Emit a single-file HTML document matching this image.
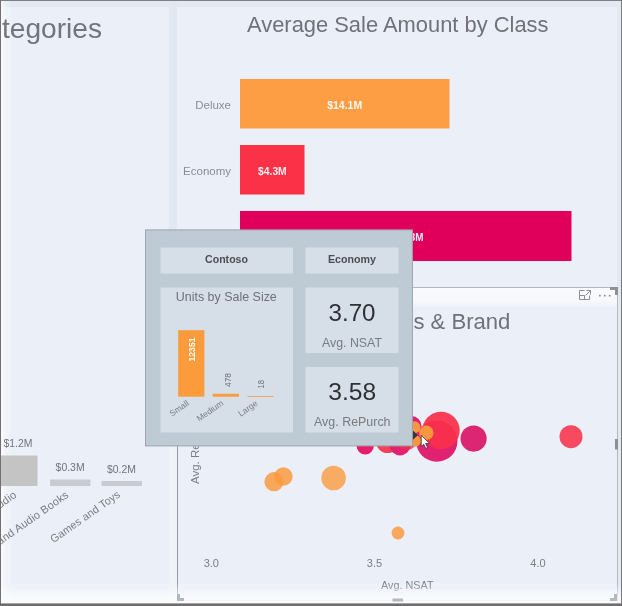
<!DOCTYPE html>
<html lang="en">
<head>
<meta charset="utf-8">
<title>Report tooltip</title>
<style>
html,body{margin:0;padding:0;background:#ebf0f8;overflow:hidden}
body{width:622px;height:606px;position:relative;font-family:"Liberation Sans",sans-serif}
svg{position:absolute;left:0;top:0;display:block}
text{font-family:"Liberation Sans",sans-serif}
</style>
</head>
<body>
<svg width="622" height="606" viewBox="0 0 622 606">
  <defs>
    <filter id="soft" x="-2%" y="-2%" width="104%" height="104%"><feGaussianBlur stdDeviation="0.3"/></filter>
    <linearGradient id="leftFade" x1="0" y1="0" x2="1" y2="0"><stop offset="0" stop-color="#ffffff" stop-opacity="0.7"/><stop offset="0.35" stop-color="#ffffff" stop-opacity="0.3"/><stop offset="1" stop-color="#ffffff" stop-opacity="0"/></linearGradient>
    <linearGradient id="hdrFade" x1="0" y1="0" x2="0" y2="1"><stop offset="0" stop-color="#f9fafd"/><stop offset="0.65" stop-color="#f7f8fc"/><stop offset="1" stop-color="#ebf0f8"/></linearGradient>
    <linearGradient id="botFade" x1="0" y1="0" x2="0" y2="1"><stop offset="0" stop-color="#ffffff" stop-opacity="0"/><stop offset="0.75" stop-color="#ffffff" stop-opacity="0.7"/><stop offset="1" stop-color="#ffffff" stop-opacity="0.8"/></linearGradient>
    <clipPath id="scatterClip"><rect x="178" y="288" width="439" height="312"/></clipPath>
  </defs>
  <g filter="url(#soft)">
  <!-- page background -->
  <rect x="-5" y="-5" width="632" height="616" fill="#ebf0f8"/>
  <!-- top strip, gutters -->
  <rect x="0" y="0" width="622" height="7" fill="#e3e9f2"/>
  <rect x="169" y="0" width="8" height="287" fill="#e2e8f2"/>
  <rect x="169" y="287" width="8" height="317" fill="#eef2f9"/>
  <rect x="617" y="0" width="5" height="606" fill="#e2e9f3"/>

  <rect x="1" y="1" width="12" height="603" fill="url(#leftFade)"/>
  <!-- left panel title -->
  <text x="2" y="38" font-size="28" fill="#72747c" textLength="100" lengthAdjust="spacingAndGlyphs">tegories</text>

  <!-- bar chart title -->
  <text x="247" y="32" font-size="21.5" fill="#6f7179" textLength="301.5" lengthAdjust="spacingAndGlyphs">Average Sale Amount by Class</text>

  <!-- bar chart -->
  <rect x="240" y="79" width="209.5" height="49.5" fill="#fd9e45"/>
  <rect x="240" y="145" width="64.5" height="49.5" fill="#fb3047"/>
  <rect x="240" y="211" width="331.5" height="50" fill="#e0005c"/>
  <text x="231" y="108.7" font-size="11.5" fill="#8a8d96" text-anchor="end">Deluxe</text>
  <text x="231" y="174.5" font-size="11.5" fill="#8a8d96" text-anchor="end">Economy</text>
  <text x="327.2" y="108.9" font-size="10.5" font-weight="bold" fill="#fff" fill-opacity="0.92" textLength="35" lengthAdjust="spacingAndGlyphs">$14.1M</text>
  <text x="258.1" y="175" font-size="10.5" font-weight="bold" fill="#fff" fill-opacity="0.92" textLength="28.6" lengthAdjust="spacingAndGlyphs">$4.3M</text>
  <text x="423.5" y="241" font-size="10" font-weight="bold" fill="#fff" fill-opacity="0.92" text-anchor="end" textLength="33" lengthAdjust="spacingAndGlyphs">$22.3M</text>

  <!-- left bottom column chart -->
  <rect x="1" y="455.5" width="36.5" height="30.5" fill="#c4c4c4"/>
  <rect x="50" y="479.5" width="40.5" height="6.5" fill="#c8cbd2"/>
  <rect x="101.5" y="481" width="40.5" height="5" fill="#c8cbd2"/>
  <text x="3.5" y="447" font-size="11" fill="#70737b" textLength="29" lengthAdjust="spacingAndGlyphs">$1.2M</text>
  <text x="55.6" y="470.6" font-size="11" fill="#70737b" textLength="29" lengthAdjust="spacingAndGlyphs">$0.3M</text>
  <text x="107" y="472.9" font-size="11" fill="#70737b" textLength="29" lengthAdjust="spacingAndGlyphs">$0.2M</text>
  <g font-size="11" fill="#787b83" text-anchor="end" letter-spacing="0.15">
    <text transform="translate(17.5,496.5) rotate(-35)">TV and Video and Audio</text>
    <text transform="translate(69.5,496.5) rotate(-35)">Music, Movies and Audio Books</text>
    <text transform="translate(121,496) rotate(-35)" textLength="82.5" lengthAdjust="spacingAndGlyphs">Games and Toys</text>
  </g>

  <!-- scatter chart frame -->
  <rect x="177.5" y="287.5" width="440" height="313" fill="#ebf0f8" stroke="#b4b8be" stroke-width="1"/>
  <rect x="177" y="288" width="1" height="312" fill="#979ba3"/>
  <rect x="178" y="288" width="439" height="20" fill="url(#hdrFade)"/>
  <rect x="178" y="600" width="439" height="1" fill="#d3d6db"/>
  <text y="328.5" font-size="21.5" fill="#6f7179"><tspan x="411" text-anchor="end">Avg. NSAT by Clas</tspan><tspan x="413.4" textLength="97" lengthAdjust="spacingAndGlyphs">s &amp; Brand</tspan></text>
  <!-- handles -->
  <path d="M610 287h8v8h-3v-5h-5z" fill="#8e9196"/>
  <rect x="615" y="439" width="3" height="10.5" fill="#8a8f98"/>
  <!-- focus + more icons -->
  <g fill="none" stroke="#8b8e94" stroke-width="1">
    <path d="M584.5 290.5h-5v9h10v-4"/>
    <path d="M586.5 290.5h4v4M590.5 290.5l-5 5"/>
    <path d="M579.5 295.5h5v4"/>
  </g>
  <g fill="#8f9298"><rect x="599" y="294.8" width="1.7" height="1.7"/><rect x="603.9" y="294.8" width="1.7" height="1.7"/><rect x="608.8" y="294.8" width="1.7" height="1.7"/></g>

  <!-- scatter axis -->
  <text x="211.3" y="566.6" font-size="11" fill="#7a7d85" text-anchor="middle">3.0</text>
  <text x="374.5" y="566.6" font-size="11" fill="#7a7d85" text-anchor="middle">3.5</text>
  <text x="538" y="566.6" font-size="11" fill="#7a7d85" text-anchor="middle">4.0</text>
  <text x="381" y="589" font-size="11.5" fill="#7a7d85" textLength="52.5" lengthAdjust="spacingAndGlyphs">Avg. NSAT</text>
  <text transform="translate(199,484) rotate(-90)" font-size="11.5" fill="#7a7d85">Avg. RePurch</text>

  <!-- bubbles -->
  <g clip-path="url(#scatterClip)">
    <circle cx="274" cy="481.7" r="9.6" fill="#fb9a3f" fill-opacity="0.85"/>
    <circle cx="283.4" cy="476.5" r="9.3" fill="#fb9a3f" fill-opacity="0.85"/>
    <circle cx="333.6" cy="478" r="12.3" fill="#fb9a3f" fill-opacity="0.8"/>
    <circle cx="398" cy="533" r="6.4" fill="#fb9a3f" fill-opacity="0.85"/>
    <circle cx="571" cy="436.7" r="11.5" fill="#f8304a" fill-opacity="0.88"/>
    <circle cx="473.6" cy="438.6" r="13.1" fill="#dc1c6c" fill-opacity="0.95"/>
    <circle cx="436.8" cy="441" r="20.7" fill="#e0206f"/>
    <circle cx="441" cy="430.5" r="18.7" fill="#f9304a" fill-opacity="0.93"/>
    <circle cx="365.2" cy="446" r="8.6" fill="#e81f68"/>
    <circle cx="387.5" cy="441.5" r="11.5" fill="#f5405a"/>
    <circle cx="400" cy="444.9" r="10.5" fill="#e0206f"/>
    <circle cx="406.5" cy="439" r="11" fill="#f5304e" fill-opacity="0.8"/>
    <circle cx="411.5" cy="426" r="10" fill="#e0206f"/>
    <circle cx="414.5" cy="427.2" r="6" fill="#f8973f"/>
    <circle cx="415.5" cy="441" r="5.6" fill="#f8973f"/>
    <circle cx="426.3" cy="432.8" r="7.2" fill="#f8973f"/>
  </g>

  <!-- tooltip -->
  <g>
    <path d="M412.5 430.3l5.4 4.6-5.4 5.3z" fill="#35373a"/>
    <rect x="145.5" y="229.9" width="266.9" height="216" fill="#bfcbd4" stroke="#99a4ad" stroke-width="1"/>
    <rect x="160.5" y="247.5" width="132.5" height="26" fill="#d6dfe8"/>
    <rect x="305.5" y="247.5" width="93" height="26" fill="#d6dfe8"/>
    <rect x="160.5" y="287.5" width="132.5" height="145" fill="#d6dfe8"/>
    <rect x="305.5" y="287.5" width="93" height="65.5" fill="#d6dfe8"/>
    <rect x="305.5" y="367" width="93" height="65.5" fill="#d6dfe8"/>
    <text x="226.5" y="263.3" font-size="11.5" font-weight="bold" fill="#4a4e55" text-anchor="middle" textLength="43" lengthAdjust="spacingAndGlyphs">Contoso</text>
    <text x="352" y="263.3" font-size="11.5" font-weight="bold" fill="#4a4e55" text-anchor="middle" textLength="48" lengthAdjust="spacingAndGlyphs">Economy</text>
    <text x="226.3" y="301.2" font-size="12.5" fill="#6d7078" text-anchor="middle" textLength="101" lengthAdjust="spacingAndGlyphs">Units by Sale Size</text>
    <!-- mini chart -->
    <rect x="178.2" y="330.2" width="26.2" height="66.5" fill="#fb9b3b"/>
    <rect x="212.6" y="393.8" width="26.4" height="2.9" fill="#fb9b3b"/>
    <rect x="247.4" y="396" width="26.4" height="1" fill="#f0a862"/>
    <text transform="translate(195,361.5) rotate(-90)" font-size="8.5" font-weight="bold" fill="#fff" textLength="24" lengthAdjust="spacingAndGlyphs">12351</text>
    <text transform="translate(230.5,387) rotate(-90)" font-size="8.5" fill="#6d7078" textLength="14" lengthAdjust="spacingAndGlyphs">478</text>
    <text transform="translate(263.5,388.5) rotate(-90)" font-size="8.5" fill="#6d7078" textLength="8.5" lengthAdjust="spacingAndGlyphs">18</text>
    <g font-size="8.5" fill="#7a7d85" text-anchor="end">
      <text transform="translate(189.5,404.5) rotate(-35)">Small</text>
      <text transform="translate(224,404.5) rotate(-35)">Medium</text>
      <text transform="translate(258.5,404.5) rotate(-35)">Large</text>
    </g>
    <!-- cards -->
    <text x="352" y="321.2" font-size="24" fill="#2d3138" text-anchor="middle" textLength="47" lengthAdjust="spacingAndGlyphs">3.70</text>
    <text x="352" y="347" font-size="12.5" fill="#777b82" text-anchor="middle" textLength="60" lengthAdjust="spacingAndGlyphs">Avg. NSAT</text>
    <text x="352.3" y="400.3" font-size="24" fill="#2d3138" text-anchor="middle" textLength="48" lengthAdjust="spacingAndGlyphs">3.58</text>
    <text x="352.3" y="426" font-size="12.5" fill="#777b82" text-anchor="middle" textLength="76.5" lengthAdjust="spacingAndGlyphs">Avg. RePurch</text>
  </g>

  <!-- cursor -->
  <path d="M421.2 435.4l0 11 2.5-2.2 2 4.2 1.9-.8-2-4.1 3.9-.2z" fill="#fff" stroke="#333" stroke-width="0.8" stroke-linejoin="round"/>

  <rect x="1" y="582" width="620" height="22" fill="url(#botFade)"/>
  <path d="M177 594h3v4h4v3h-7z" fill="#b4b7bd"/>
  <path d="M617 594v7h-7v-3h4v-4z" fill="#b4b7bd"/>
  <rect x="392.5" y="598.5" width="10.5" height="3" fill="#b4b7bc"/>
  </g>
  <!-- outer frame -->
  <rect x="0" y="0" width="622" height="1" fill="#808080"/>
  <rect x="0" y="0" width="1" height="606" fill="#707070"/>
  <rect x="621" y="0" width="1" height="606" fill="#7a7a7a"/>
  <rect x="0" y="603.4" width="622" height="2.6" fill="#6e6e6e"/>
</svg>
</body>
</html>
